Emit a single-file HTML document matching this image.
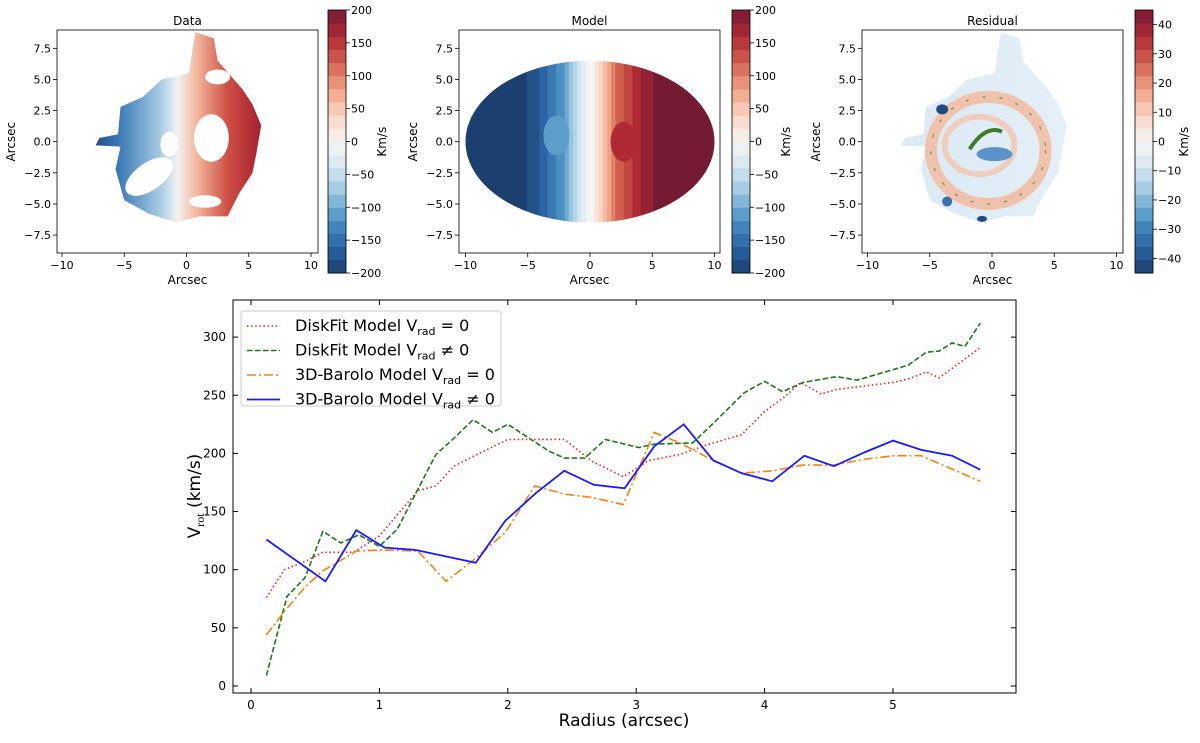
<!DOCTYPE html>
<html><head><meta charset="utf-8"><style>
body{margin:0;background:#fff;}
svg text{font-family:"DejaVu Sans","Liberation Sans",sans-serif;fill:#000;}
</style></head><body>
<svg id="root" width="1200" height="738" viewBox="0 0 1200 738" xmlns="http://www.w3.org/2000/svg">
<defs>
<clipPath id="ellClip"><ellipse cx="590" cy="141.7" rx="124.5" ry="81"/></clipPath>
</defs>
<g id="maps"></g>
<g id="bottom"></g>
</svg>
<script>
// ---------- bottom chart data ----------
const redR=[0.12,0.26,0.42,0.56,0.8,1.0,1.3,1.44,1.58,1.74,2.0,2.44,2.66,2.9,3.1,3.34,3.54,3.82,4.0,4.16,4.28,4.44,4.56,4.78,5.0,5.12,5.26,5.36,5.68];
const redV=[76,100,107,115,115,129,168,172,189,198,212,212,193,180,194,199,207,216,236,249,261,251,255,258,261,264,270,265,291];
const greenR=[0.12,0.28,0.42,0.56,0.7,0.84,1.0,1.14,1.28,1.44,1.58,1.73,1.88,2.0,2.32,2.44,2.6,2.76,3.02,3.14,3.44,3.62,3.84,4.0,4.14,4.3,4.56,4.72,5.0,5.12,5.26,5.36,5.46,5.56,5.68];
const greenV=[9,77,93,133,123,130,120,135,165,199,213,229,218,225,202,196,196,212,205,208,209,228,252,262,253,261,266,263,272,276,287,288,295,292,312];
const orangeR=[0.12,0.26,0.42,0.56,0.82,1.02,1.3,1.52,1.74,1.98,2.21,2.44,2.66,2.9,3.14,3.34,3.6,3.82,4.06,4.3,4.54,4.78,5.0,5.22,5.68];
const orangeV=[44,64,85,99,116,117,116,90,109,132,172,165,162,156,218,209,194,183,185,190,190,195,198,198,176];
const blueR=[0.12,0.58,0.82,1.04,1.28,1.75,1.98,2.22,2.44,2.67,2.91,3.14,3.37,3.6,3.82,4.06,4.31,4.54,4.78,5.0,5.22,5.46,5.68];
const blueV=[126,90,134,119,117,106,142,166,185,173,170,206,225,194,183,176,198,189,201,211,203,198,186];
const xTicks=[0,1,2,3,4,5];
const yTicks=[0,50,100,150,200,250,300];
const mapTicks=[-10,-5,0,5,10];
const mapYTicks=[7.5,5.0,2.5,0.0,-2.5,-5.0,-7.5];
const cbTicksV=[200,150,100,50,0,-50,-100,-150,-200];
const cbTicksR=[40,30,20,10,0,-10,-20,-30,-40];

const NS="http://www.w3.org/2000/svg";
function mk(tag,attrs,parent){const e=document.createElementNS(NS,tag);for(const k in attrs)e.setAttribute(k,attrs[k]);parent.appendChild(e);return e;}
const fmt=v=>(v<0?"\u2212":"")+Math.abs(v);

// RdBu_r colormap (slightly softened like the reference)
const pal=["#1b3f6e","#2a64a3","#4a90c2","#97c4de","#d3e5f0","#f5f5f5","#f9d5c2","#f0a285","#d1604f","#b02a35","#751a33"];
function hx(c){return [1,3,5].map(i=>parseInt(c.substr(i,2),16));}
function cmap(t){t=Math.max(0,Math.min(1,t));const s=t*10,i=Math.min(9,Math.floor(s)),f=s-i;const a=hx(pal[i]),b=hx(pal[i+1]);
 const m=a.map((v,k)=>Math.round(v+(b[k]-v)*f));
 return "rgb("+m.join(",")+")";}

// ---------- top maps ----------
const maps=document.getElementById("maps");
const panels=[{x0:57,title:"Data",cx:186.5,cb:328,ticks:cbTicksV,max:200},
              {x0:459,title:"Model",cx:590,cb:732,ticks:cbTicksV,max:200},
              {x0:862,title:"Residual",cx:992,cb:1135,ticks:cbTicksR,max:45}];
const S=12.45, CY=141.7;
panels.forEach((p,pi)=>{
 const g=mk("g",{},maps);
 
 
 const X=v=>p.cx+v*S, Y=v=>CY-v*S;
 if(pi===1){
  const cg=mk("g",{"clip-path":"url(#ellClip)"},g);
  for(let k=0;k<60;k++){const xa=-10.2+k*0.34;let v=200*Math.tanh((xa+0.17)/4.0)*1.12;v=Math.max(-200,Math.min(200,v));
   mk("rect",{x:X(xa),y:40,width:0.34*S+0.6,height:200,fill:cmap((Math.round(v/20)*20+200)/400)},cg);}
  mk("ellipse",{cx:X(-2.7),cy:Y(0.5),rx:13,ry:20,fill:cmap((-110+200)/400)},cg);
  mk("ellipse",{cx:X(2.7),cy:Y(0),rx:13,ry:20,fill:cmap((160+200)/400)},cg);
 } else {
  const outer=[[-7.3,-0.3],[-7,0.3],[-5.5,0.6],[-5.3,2.8],[-3.5,3.6],[-2,5],[0.2,5.5],[0.7,8.8],[2.2,8.3],[2.5,6.5],[4.5,4.2],[5.3,3],[6,1.3],[5.6,-1],[5.3,-2.5],[4.2,-4.2],[3.3,-6],[1,-6],[-0.8,-6.5],[-3,-5.8],[-5,-4.7],[-5.7,-2.2],[-5.3,-0.4]];
  const d="M"+outer.map(q=>X(q[0])+","+Y(q[1])).join("L")+"Z";
  const gid="grad"+pi;
  const gr=mk("linearGradient",{id:gid,x1:X(-7.5),x2:X(6),y1:0,y2:0,gradientUnits:"userSpaceOnUse"},g);
  if(pi===0){
   [[0,"#1f4a80"],[0.15,"#3a78b5"],[0.4,"#a6cbe3"],[0.5,"#f2f2f2"],[0.62,"#f3b49a"],[0.8,"#cf4f45"],[1,"#a3202f"]].forEach(s=>mk("stop",{offset:s[0],"stop-color":s[1]},gr));
  } else {
   [[0,"#dbe9f4"],[1,"#e4eff7"]].forEach(s=>mk("stop",{offset:s[0],"stop-color":s[1]},gr));
  }
  mk("path",{d:d,fill:"url(#"+gid+")"},g);
  if(pi===2){
   mk("ellipse",{cx:X(-0.3),cy:Y(-0.7),rx:4.6*S,ry:4.3*S,fill:"none",stroke:"#f2bca4","stroke-width":12,opacity:0.9},g);
   mk("ellipse",{cx:X(-1),cy:Y(-0.3),rx:2.8*S,ry:2.3*S,fill:"none",stroke:"#f2c4ae","stroke-width":6,opacity:0.8},g);
   mk("ellipse",{cx:X(-0.3),cy:Y(-0.7),rx:4.6*S,ry:4.3*S,fill:"none",stroke:"#4e8a3a","stroke-width":1.2,"stroke-dasharray":"3,14",opacity:0.9},g);
   mk("path",{d:`M${X(-1.8)},${Y(-0.6)} Q${X(-0.5)},${Y(1.4)} ${X(0.8)},${Y(0.8)}`,stroke:"#3d7a2a","stroke-width":4,fill:"none"},g);
   mk("ellipse",{cx:X(0.2),cy:Y(-1),rx:18,ry:7,fill:"#5a93c8"},g);
   mk("ellipse",{cx:X(-4),cy:Y(2.6),rx:6,ry:5,fill:"#1f4a80"},g);
   mk("ellipse",{cx:X(-0.8),cy:Y(-6.2),rx:5,ry:3,fill:"#1f4a80"},g);
   mk("ellipse",{cx:X(-3.6),cy:Y(-4.8),rx:5,ry:5,fill:"#3a6fa8"},g);
  } else {
   mk("ellipse",{cx:X(-3),cy:Y(-2.8),rx:2.2*S,ry:1.1*S,fill:"#fff",transform:`rotate(-35 ${X(-3)} ${Y(-2.8)})`},g);
   mk("ellipse",{cx:X(2),cy:Y(0.3),rx:1.4*S,ry:1.9*S,fill:"#fff"},g);
   mk("ellipse",{cx:X(-1.4),cy:Y(-0.2),rx:0.7*S,ry:1*S,fill:"#fff"},g);
   mk("ellipse",{cx:X(1.5),cy:Y(-4.8),rx:1.3*S,ry:0.5*S,fill:"#fff"},g);
   mk("ellipse",{cx:X(2.5),cy:Y(5.2),rx:1*S,ry:0.6*S,fill:"#fff"},g);
  }
 }
 mk("rect",{x:p.x0,y:30,width:261,height:223,fill:"none",stroke:"#000","stroke-width":0.8},g);
 const t=mk("text",{x:p.x0+130.5,y:25,"text-anchor":"middle","font-size":12},g);t.textContent=p.title;
 mapTicks.forEach(v=>{mk("line",{x1:X(v),x2:X(v),y1:253,y2:257,stroke:"#000","stroke-width":0.8},g);
  const l=mk("text",{x:X(v),y:269,"text-anchor":"middle","font-size":11},g);l.textContent=fmt(v);});
 mapYTicks.forEach(v=>{mk("line",{x1:p.x0-4,x2:p.x0,y1:Y(v),y2:Y(v),stroke:"#000","stroke-width":0.8},g);
  const l=mk("text",{x:p.x0-6,y:Y(v)+4,"text-anchor":"end","font-size":11},g);l.textContent=(v<0?"\u2212":"")+Math.abs(v).toFixed(1);});
 const xl=mk("text",{x:p.x0+130.5,y:284,"text-anchor":"middle","font-size":12},g);xl.textContent="Arcsec";
 const yl=mk("text",{x:0,y:0,"text-anchor":"middle","font-size":12,transform:`translate(${p.x0-42},141.7) rotate(-90)`},g);yl.textContent="Arcsec";
 const cbg=mk("g",{},g);
 
 
 const top=10,h=263,n=20;
 for(let i=0;i<n;i++){mk("rect",{x:p.cb,y:top+h-(i+1)*h/n,width:18,height:h/n+0.5,fill:cmap((i+0.5)/n)},cbg);}
 mk("rect",{x:p.cb,y:top,width:18,height:h,fill:"none",stroke:"#000","stroke-width":0.8},cbg);
 p.ticks.forEach(v=>{const yy=top+h*(1-(v+p.max)/(2*p.max));
  mk("line",{x1:p.cb+18,x2:p.cb+22,y1:yy,y2:yy,stroke:"#000","stroke-width":0.8},cbg);
  const l=mk("text",{x:p.cb+23,y:yy+4,"font-size":11},cbg);l.textContent=fmt(v);});
 const cl=mk("text",{x:0,y:0,"text-anchor":"middle","font-size":12,transform:`translate(${p.cb+(pi===2?53:58)},141.7) rotate(-90)`},cbg);cl.textContent="Km/s";
});

// ---------- bottom chart ----------
const B=document.getElementById("bottom");
const L=233,R=1016,T=300,Bt=693;
const xs=v=>251+v*128.4, ys=v=>686-v*1.163;
mk("rect",{x:L,y:T,width:R-L,height:Bt-T,fill:"none",stroke:"#000","stroke-width":1},B);
xTicks.forEach(v=>{[[Bt,Bt-5],[T,T+5]].forEach(a=>mk("line",{x1:xs(v),x2:xs(v),y1:a[0],y2:a[1],stroke:"#000"},B));
 const t=mk("text",{x:xs(v),y:709,"text-anchor":"middle","font-size":12},B);t.textContent=v;});
yTicks.forEach(v=>{[[L,L+5],[R,R-5]].forEach(a=>mk("line",{x1:a[0],x2:a[1],y1:ys(v),y2:ys(v),stroke:"#000"},B));
 const t=mk("text",{x:L-7,y:ys(v)+4,"text-anchor":"end","font-size":12},B);t.textContent=v;});
const xt=mk("text",{x:624,y:726,"text-anchor":"middle","font-size":17},B);xt.textContent="Radius (arcsec)";

const yt=mk("text",{x:0,y:0,"text-anchor":"middle","font-size":17,transform:"translate(200,496) rotate(-90)"},B);

yt.innerHTML='V<tspan font-size="12" dy="4" font-family="Liberation Serif">rot</tspan><tspan dy="-4"> (km/s)</tspan>';
const series=[
 {r:redR,v:redV,c:"#ff1a1a",d:"1.5,2.6",w:1.6,name:"diskfit-vrad0-line",lab:"DiskFit Model V",op:"= 0"},
 {r:greenR,v:greenV,c:"#1a7a1a",d:"5.5,2.5",w:1.6,name:"diskfit-vrad-nonzero-line",lab:"DiskFit Model V",op:"\u2260 0"},
 {r:orangeR,v:orangeV,c:"#ff7f0e",d:"9,3,2,3",w:1.6,name:"barolo-vrad0-line",lab:"3D-Barolo Model V",op:"= 0"},
 {r:blueR,v:blueV,c:"#1a1aff",d:"",w:1.8,name:"barolo-vrad-nonzero-line",lab:"3D-Barolo Model V",op:"\u2260 0"}];
series.forEach(s=>{const pts=s.r.map((r,i)=>xs(r)+","+ys(s.v[i])).join(" ");
 const pl=mk("polyline",{points:pts,fill:"none",stroke:s.c,"stroke-width":s.w,"stroke-dasharray":s.d},B);
 });
const lg=mk("g",{},B);

mk("rect",{x:241,y:311,width:260,height:95,rx:3,fill:"#fff","fill-opacity":0.85,stroke:"#ccc"},lg);
series.forEach((s,i)=>{const yy=326+i*24.5;
 const en=mk("g",{},lg);
 
 mk("line",{x1:247,x2:280,y1:yy,y2:yy,stroke:s.c,"stroke-width":s.w,"stroke-dasharray":s.d},en);
 const t=mk("text",{x:295,y:yy+5,"font-size":16},en);
 t.innerHTML=s.lab+'<tspan font-size="11" dy="4">rad</tspan><tspan dy="-4"> '+s.op+'</tspan>';});
</script>
</body></html>
